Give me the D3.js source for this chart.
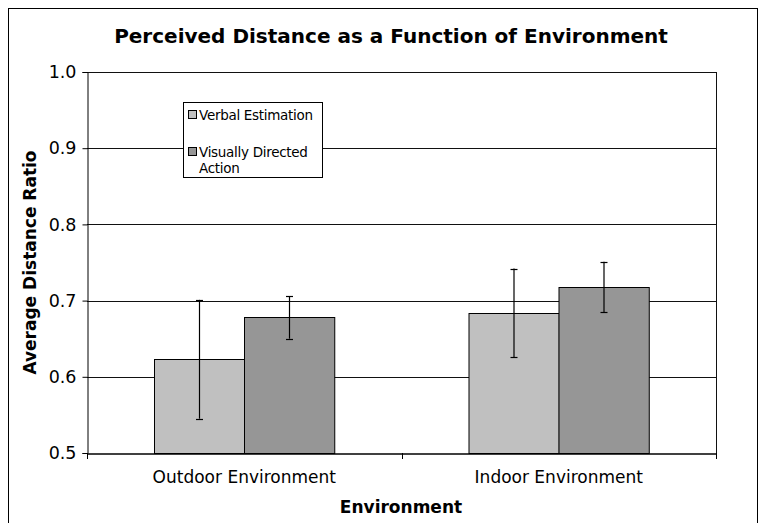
<!DOCTYPE html>
<html><head><meta charset="utf-8">
<script src="https://cdn.jsdelivr.net/npm/d3@7"></script>
<style>body{margin:0;background:#fff}svg{display:block}</style>
</head><body><svg id="c" width="762" height="523"></svg>
<script>
const categories = ["Outdoor Environment", "Indoor Environment"];
const seriesNames = ["Verbal Estimation", "Visually Directed Action"];
const verbalValues = [0.623, 0.684];
const visualValues = [0.678, 0.718];
const verbalErrors = [0.078, 0.058];
const visualErrors = [0.028, 0.033];
const yTicks = [0.5, 0.6, 0.7, 0.8, 0.9, 1.0];
const colors = ["#c0c0c0", "#969696"];

const svg = d3.select("#c");
const font = "DejaVu Sans, Verdana, sans-serif";
const L = 87, R = 716, T = 72, B = 453;

svg.append("rect").attr("x", 8.5).attr("y", 8.5).attr("width", 749).attr("height", 530)
  .attr("fill", "#fff").attr("stroke", "#000").attr("stroke-width", 1);

const x0 = d3.scaleBand().domain(categories).range([L, R]).paddingInner(0).paddingOuter(0);
const groupPad = 0.213;
const x1 = d3.scaleBand().domain([0, 1]).range([x0.bandwidth() * groupPad, x0.bandwidth() * (1 - groupPad)]);
const y = d3.scaleLinear().domain([0.5, 1.0]).range([B, T]);

// gridlines
svg.append("g").selectAll("line").data(yTicks.slice(1)).join("line")
  .attr("x1", L).attr("x2", R).attr("y1", d => Math.round(y(d)) + 0.5).attr("y2", d => Math.round(y(d)) + 0.5)
  .attr("stroke", "#111").attr("stroke-width", 1);
// right border of plot
svg.append("line").attr("x1", R + 0.5).attr("x2", R + 0.5).attr("y1", T).attr("y2", B).attr("stroke", "#111");

const data = categories.map((c, i) => ({
  cat: c,
  vals: [
    { s: 0, v: verbalValues[i], e: verbalErrors[i] },
    { s: 1, v: visualValues[i], e: visualErrors[i] }
  ]
}));

const groups = svg.append("g").selectAll("g").data(data).join("g")
  .attr("transform", d => `translate(${x0(d.cat)},0)`);

groups.selectAll("rect").data(d => d.vals).join("rect")
  .attr("x", d => Math.round(x1(d.s)) + 0.5)
  .attr("width", x1.bandwidth())
  .attr("y", d => Math.round(y(d.v)) + 0.5)
  .attr("height", d => B - Math.round(y(d.v)))
  .attr("fill", d => colors[d.s]).attr("stroke", "#000").attr("stroke-width", 1);

// error bars
const eb = groups.selectAll("g.eb").data(d => d.vals).join("g").attr("class", "eb");
eb.append("line")
  .attr("x1", d => Math.round(x1(d.s) + x1.bandwidth() / 2) + 0.5)
  .attr("x2", d => Math.round(x1(d.s) + x1.bandwidth() / 2) + 0.5)
  .attr("y1", d => y(d.v + d.e)).attr("y2", d => y(d.v - d.e))
  .attr("stroke", "#000").attr("stroke-width", 1.2);
[1, -1].forEach(sign => {
  eb.append("line")
    .attr("x1", d => Math.round(x1(d.s) + x1.bandwidth() / 2) - 3)
    .attr("x2", d => Math.round(x1(d.s) + x1.bandwidth() / 2) + 4)
    .attr("y1", d => Math.round(y(d.v + sign * d.e)) + 0.5)
    .attr("y2", d => Math.round(y(d.v + sign * d.e)) + 0.5)
    .attr("stroke", "#000").attr("stroke-width", 1.2);
});

// y axis
const yAxis = d3.axisLeft(y).tickValues(yTicks).tickFormat(d3.format(".1f")).tickSizeOuter(0).tickSize(5).tickPadding(6);
const ya = svg.append("g").attr("transform", `translate(${L + 0.5},0)`).call(yAxis);
ya.select(".domain").attr("stroke", "#000");
ya.selectAll(".tick line").attr("stroke", "#000");
ya.selectAll("text").attr("font-family", font).attr("font-size", 17.5).attr("fill", "#000");

// x axis
const xAxis = d3.axisBottom(x0).tickSize(0).tickPadding(17).tickSizeOuter(0);
const xa = svg.append("g").attr("transform", `translate(0,${B + 0.5})`).call(xAxis);
xa.select(".domain").attr("stroke", "#000").attr("stroke-width", 1.5);
xa.selectAll("text").attr("font-family", font).attr("font-size", 17).attr("fill", "#000");
// boundary ticks between categories
const bounds = [L, x0(categories[1]), R];
svg.append("g").selectAll("line").data(bounds).join("line")
  .attr("x1", d => Math.round(d) + 0.5).attr("x2", d => Math.round(d) + 0.5)
  .attr("y1", B).attr("y2", B + 6).attr("stroke", "#000");

// titles
svg.append("text").attr("x", 391).attr("y", 43).attr("text-anchor", "middle")
  .attr("font-family", font).attr("font-weight", "bold").attr("font-size", 20)
  .text("Perceived Distance as a Function of Environment");
svg.append("text").attr("x", 401).attr("y", 513).attr("text-anchor", "middle")
  .attr("font-family", font).attr("font-weight", "bold").attr("font-size", 17)
  .text("Environment");
svg.append("text").attr("transform", `translate(36,${(T + B) / 2}) rotate(-90)`).attr("text-anchor", "middle")
  .attr("font-family", font).attr("font-weight", "bold").attr("font-size", 17)
  .text("Average Distance Ratio");

// legend
const lg = svg.append("g");
lg.append("rect").attr("x", 183.5).attr("y", 102.5).attr("width", 139).attr("height", 75)
  .attr("fill", "#fff").attr("stroke", "#000");
const legendLines = [["Verbal Estimation"], ["Visually Directed", "Action"]];
const legendTop = [110, 147];
seriesNames.forEach((n, i) => {
  lg.append("rect").attr("x", 188.5).attr("y", legendTop[i] + 0.5).attr("width", 8).attr("height", 8)
    .attr("fill", colors[i]).attr("stroke", "#000");
  const t = lg.append("text").attr("x", 199).attr("y", legendTop[i] + 10)
    .attr("font-family", font).attr("font-size", 13.5).attr("fill", "#000")
    .attr("letter-spacing", -0.3);
  legendLines[i].forEach((l, j) => {
    t.append("tspan").attr("x", 199).attr("dy", j === 0 ? 0 : 16).text(l);
  });
});
</script></body></html>
